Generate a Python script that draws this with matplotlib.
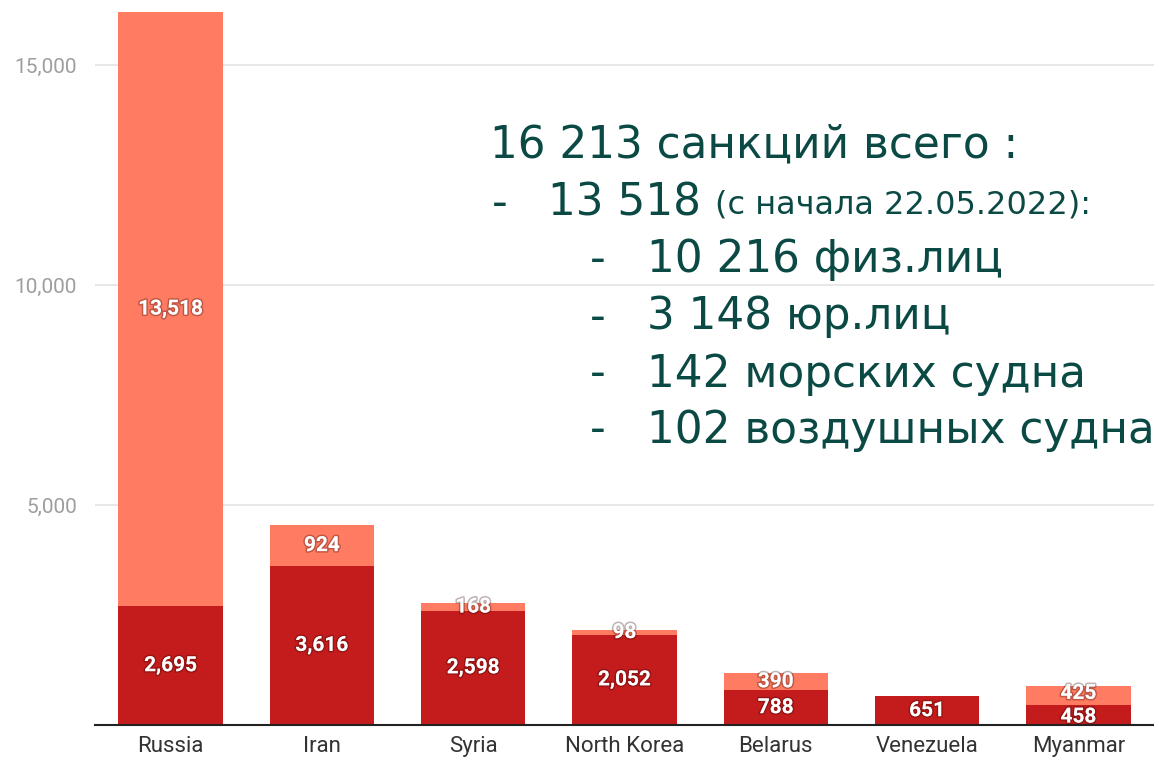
import matplotlib.pyplot as plt
import matplotlib.patheffects as pe
import numpy as np

# данные
countries = ["Russia", "Iran", "Syria", "North Korea", "Belarus", "Venezuela", "Myanmar"]
before = [2695, 3616, 2598, 2052, 788, 651, 458]
after = [13518, 924, 168, 98, 390, 0, 425]
yticks = [5000, 10000, 15000]

note_lines = [
    "16 213 санкций всего :",
    "10 216 физ.лиц",
    "3 148 юр.лиц",
    "142 морских судна",
    "102 воздушных судна",
]

DARK = "#c41c1c"
LIGHT = "#ff7b61"
TEAL = "#0b4a44"

plt.rcParams['font.family'] = ['Roboto', 'DejaVu Sans']

fig = plt.figure(figsize=(11.54, 7.6), dpi=100)
ax = fig.add_axes([95 / 1154, 35 / 760, 1059 / 1154, 725 / 760])

x = np.arange(len(countries))
ax.bar(x, before, width=0.69, color=DARK, zorder=3)
ax.bar(x, after, width=0.69, bottom=before, color=LIGHT, zorder=3)

# мягкая тень под белыми подписями
shadow = [pe.withStroke(linewidth=2.2, foreground=(0.2, 0, 0, 0.3))]
lbl = dict(ha='center', va='center', color='white', fontsize=15, fontweight='bold',
           zorder=5, path_effects=shadow, textcoords='offset points')
for i in range(len(countries)):
    # если оба сегмента низкие, чуть раздвигаем подписи
    nudge = 1.5 if (before[i] < 600 and after[i] > 0) else 0
    ax.annotate(f"{before[i]:,}", (x[i], before[i] / 2), xytext=(0, -nudge), **lbl)
    if after[i] > 0:
        ax.annotate(f"{after[i]:,}", (x[i], before[i] + after[i] / 2), xytext=(0, nudge), **lbl)

ax.set_xlim(-0.5, 6.5)
ax.set_ylim(0, 16480)
ax.set_yticks(yticks)
ax.set_yticklabels([f"{v:,}" for v in yticks])
ax.set_xticks(x)
ax.set_xticklabels(countries)
ax.tick_params(axis='y', length=0, pad=13, labelsize=15, labelcolor='#9e9e9e')
ax.tick_params(axis='x', length=0, pad=8, labelsize=16, labelcolor='#333333')
ax.grid(axis='y', color='#e3e3e3', linewidth=1.2, zorder=0)
for s in ['top', 'right', 'left']:
    ax.spines[s].set_visible(False)
ax.spines['bottom'].set_color('#222222')
ax.spines['bottom'].set_linewidth(1.5)
ax.spines['bottom'].set_zorder(4)

# аннотация
fnt = ['DejaVu Sans']
W, H = 1154, 760
fs = 31.5
fig.text(490 / W, 1 - 145 / H, note_lines[0], family=fnt, fontsize=fs, color=TEAL, va='center')
fig.text(492 / W, 1 - 203 / H, "-", family=fnt, fontsize=fs, color=TEAL, va='center')
t = fig.text(548 / W, 1 - 203 / H, "13 518", family=fnt, fontsize=fs, color=TEAL, va='center')
fig.canvas.draw()
bb = t.get_window_extent()
fig.text((bb.x1 + 14) / W, 1 - 205 / H, "(с начала 22.05.2022):", family=fnt, fontsize=23,
         color=TEAL, va='center')
ys = [260, 317, 374, 430]
for yy, line in zip(ys, note_lines[1:]):
    fig.text(590 / W, 1 - yy / H, "-", family=fnt, fontsize=fs, color=TEAL, va='center')
    fig.text(647 / W, 1 - yy / H, line, family=fnt, fontsize=fs, color=TEAL, va='center')

fig.savefig("out.png", dpi=100)
